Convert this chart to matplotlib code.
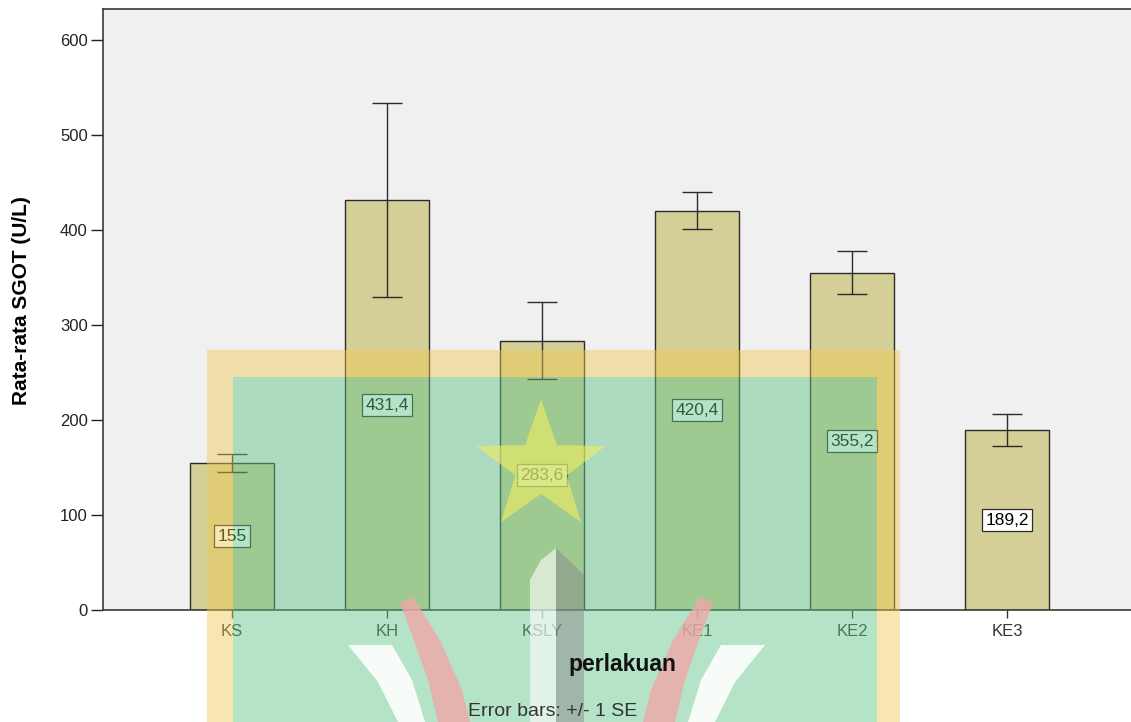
import numpy as np
import matplotlib
matplotlib.use("Agg")
import matplotlib.pyplot as plt
from matplotlib.patches import Rectangle, Polygon

plt.rcParams["font.family"] = ["Liberation Sans", "DejaVu Sans"]

perlakuan = ["KS", "KH", "KSLY", "KE1", "KE2", "KE3"]
rerata = [155.0, 431.4, 283.6, 420.4, 355.2, 189.2]
se = [9.5, 102.0, 40.5, 19.5, 22.8, 17.0]
label_teks = ["155", "431,4", "283,6", "420,4", "355,2", "189,2"]

W, H = 1131, 722
fig = plt.figure(figsize=(W / 100, H / 100), dpi=100)
fig.patch.set_facecolor("white")
ax = fig.add_axes([103 / W, (H - 610) / H, (W - 103) / W, 601 / H])
ax.set_facecolor("#f0f0f0")

x = np.arange(len(perlakuan))
ax.bar(x, rerata, width=0.54, color="#d4ce97", edgecolor="#2b2b2b",
       linewidth=1.0, zorder=2)
ax.errorbar(x, rerata, yerr=se, fmt="none", ecolor="#2b2b2b",
            elinewidth=1.0, capsize=11, capthick=1.0, zorder=3)
for xi, v, t in zip(x, rerata, label_teks):
    ax.text(xi, v / 2, t, ha="center", va="center", fontsize=12.5,
            color="black", zorder=4,
            bbox=dict(boxstyle="square,pad=0.2", fc="white", ec="#2b2b2b",
                      lw=0.9))

ax.set_xlim(-0.832, 5.8)
ax.set_ylim(0, 632.6)
ax.set_yticks([0, 100, 200, 300, 400, 500, 600])
ax.set_xticks(x)
ax.set_xticklabels(perlakuan)
ax.tick_params(axis="y", length=9, width=1.0, labelsize=12, colors="#222222",
               pad=2)
ax.tick_params(axis="x", length=6, width=1.0, labelsize=12, colors="#333333",
               pad=4)
for side in ("left", "top", "bottom"):
    ax.spines[side].set_color("#3a3a3a")
    ax.spines[side].set_linewidth(1.2)
ax.spines["right"].set_visible(False)

ax.set_ylabel("Rata-rata SGOT (U/L)", fontsize=15, fontweight="bold")
ax.yaxis.set_label_coords(-72 / (W - 103), 0.515)
fig.text(622 / W, 1 - 665 / H, "perlakuan", ha="center", va="center",
         fontsize=16.5, fontweight="bold", color="#111111", zorder=10)
fig.text(553 / W, 1 - 712 / H, "Error bars: +/- 1 SE", ha="center",
         va="center", fontsize=14, color="#333333", zorder=10)

# watermark logo overlay (approximate)
def px(pts):
    return [(a / W, 1 - b / H) for a, b in pts]


def fr(x0, y0, x1, y1, **kw):
    fig.add_artist(Rectangle((x0 / W, 1 - y1 / H), (x1 - x0) / W,
                             (y1 - y0) / H, transform=fig.transFigure,
                             lw=0, zorder=5, **kw))


def poly(pts, **kw):
    fig.add_artist(Polygon(px(pts), closed=True, transform=fig.transFigure,
                           lw=0, zorder=6, **kw))


yel = dict(fc="#f0c850", alpha=0.45)
fr(207, 350, 900, 377, **yel)
fr(207, 377, 233, H, **yel)
fr(877, 377, 900, H, **yel)
fr(233, 377, 877, H, fc="#62c48a", alpha=0.47)

cx, cy, r1, r2 = 541, 467, 68, 27
ang = np.pi / 2 + np.arange(10) * np.pi / 5
rad = np.where(np.arange(10) % 2 == 0, r1, r2)
star = [(cx + rr * np.cos(a), cy - rr * np.sin(a)) for a, rr in zip(ang, rad)]
poly(star, fc="#f2ee60", alpha=0.6)

red_l = [(400, 603), (413, 597), (440, 640), (462, 690), (470, 722),
         (438, 722), (428, 680), (412, 635)]
white_l = [(348, 645), (392, 645), (412, 680), (425, 722), (398, 722),
           (378, 682)]
poly(red_l, fc="#f0a8a8", alpha=0.8)
poly(white_l, fc="white", alpha=0.9)
poly([(1113 - a, b) for a, b in red_l], fc="#f0a8a8", alpha=0.8)
poly([(1113 - a, b) for a, b in white_l], fc="white", alpha=0.9)
poly([(541, 560), (556, 548), (556, 722), (530, 722), (530, 580)],
     fc="white", alpha=0.6)
poly([(556, 548), (584, 575), (584, 722), (556, 722)],
     fc="#8a8a8a", alpha=0.5)

fig.savefig("out.png", dpi=100)
